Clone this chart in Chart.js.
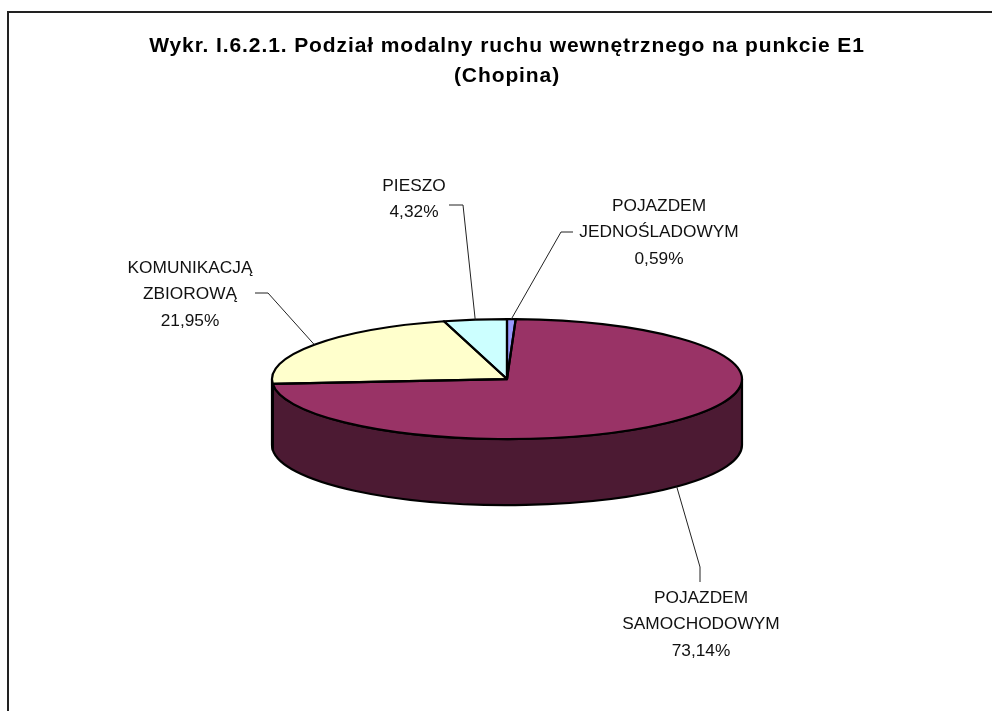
<!DOCTYPE html>
<html>
<head>
<meta charset="utf-8">
<style>
  body { margin: 0; background: #fff; }
  canvas { display: block; }
</style>
<script src="https://cdn.jsdelivr.net/npm/chart.js@4/dist/chart.umd.js"></script>
</head>
<body>
<canvas id="myChart" width="992" height="711"></canvas>
<script>
const titleLines = ['Wykr. I.6.2.1. Podział modalny ruchu wewnętrznego na punkcie E1', '(Chopina)']
const categories = [['POJAZDEM', 'JEDNOŚLADOWYM'], ['POJAZDEM', 'SAMOCHODOWYM'], ['KOMUNIKACJĄ', 'ZBIOROWĄ'], ['PIESZO']]
const shares = [0.59, 73.14, 21.95, 4.32]
const sliceColors = ['#9999ff', '#993366', '#ffffcc', '#ccffff']
const wallColors = ['#4c4c80', '#4c1a33', '#808066', '#668080']

const squash = 60 / 235 // flattened pie: vertical radius / horizontal radius
const depth = 66

// label block centre, first baseline, and the leader line bends (rim point comes from the arc)
const labelLayout = [
  { x: 659, y: 211, bends: [[561, 232], [573, 232]] },
  { x: 701, y: 603, bends: [[700, 567], [700, 582]], onWall: true },
  { x: 190, y: 273, bends: [[268, 293], [255, 293]] },
  { x: 414, y: 191, bends: [[463, 205], [449, 205]] }
]

const pie3d = {
  id: 'pie3d',
  beforeDraw(chart) {
    const { ctx, width, height } = chart
    ctx.save()
    ctx.strokeStyle = '#222'
    ctx.lineWidth = 2
    ctx.beginPath()
    ctx.moveTo(8, height)
    ctx.lineTo(8, 12)
    ctx.lineTo(width, 12)
    ctx.stroke()
    ctx.restore()
    ctx.letterSpacing = '0.9px'
  },
  beforeDatasetsDraw(chart) {
    const { ctx } = chart
    const arcs = chart.getDatasetMeta(0).data
    const { x, y, outerRadius: r } = arcs[0]
    ctx.letterSpacing = '0px'
    ctx.save()
    ctx.lineWidth = 2.2
    ctx.lineJoin = 'round'
    ctx.strokeStyle = '#000'
    arcs.forEach((arc, i) => {
      // only the part facing the viewer (0..PI in canvas angles) has a visible wall
      const a0 = Math.max(arc.startAngle, 0)
      const a1 = Math.min(arc.endAngle, Math.PI)
      if (a1 <= a0) return
      ctx.beginPath()
      ctx.ellipse(x, y, r, r * squash, 0, a0, a1)
      ctx.ellipse(x, y + depth, r, r * squash, 0, a1, a0, true)
      ctx.closePath()
      ctx.fillStyle = wallColors[i]
      ctx.fill()
      ctx.stroke()
    })
    ctx.restore()
    ctx.save()
    ctx.translate(0, y)
    ctx.scale(1, squash)
    ctx.translate(0, -y)
  },
  afterDatasetsDraw(chart) {
    const { ctx } = chart
    ctx.restore()
    const arcs = chart.getDatasetMeta(0).data
    ctx.save()
    ctx.lineWidth = 2.2
    ctx.lineJoin = 'round'
    ctx.strokeStyle = '#000'
    arcs.forEach(arc => {
      ctx.beginPath()
      ctx.moveTo(arc.x, arc.y)
      ctx.ellipse(arc.x, arc.y, arc.outerRadius, arc.outerRadius * squash, 0, arc.startAngle, arc.endAngle)
      ctx.closePath()
      ctx.stroke()
    })
    ctx.restore()

    ctx.save()
    ctx.font = '17.3px "Liberation Sans"'
    ctx.fillStyle = '#111'
    ctx.textAlign = 'center'
    ctx.strokeStyle = '#222'
    ctx.lineWidth = 1
    arcs.forEach((arc, i) => {
      const place = labelLayout[i]
      const mid = (arc.startAngle + arc.endAngle) / 2
      const rimX = arc.x + arc.outerRadius * Math.cos(mid)
      const rimY = arc.y + arc.outerRadius * squash * Math.sin(mid) + (place.onWall ? depth : 0)
      ctx.beginPath()
      ctx.moveTo(rimX, rimY)
      place.bends.forEach(p => ctx.lineTo(p[0], p[1]))
      ctx.stroke()
      const lines = categories[i].concat(shares[i].toFixed(2).replace('.', ',') + '%')
      lines.forEach((line, n) => ctx.fillText(line, place.x, place.y + n * 26.3))
    })
    ctx.restore()
  }
}

new Chart(document.getElementById('myChart'), {
  type: 'pie',
  data: {
    labels: categories.map(c => c.join(' ')),
    datasets: [{
      data: shares,
      backgroundColor: sliceColors,
      borderWidth: 0,
      radius: 235,
      clip: false
    }]
  },
  options: {
    responsive: false,
    animation: false,
    layout: { padding: { left: 22, bottom: 53 } },
    plugins: {
      legend: { display: false },
      tooltip: { enabled: false },
      title: {
        display: true,
        text: titleLines,
        color: '#000',
        font: { family: '"Liberation Sans"', size: 21, weight: 'bold', lineHeight: 1.43 },
        padding: { top: 31, bottom: 9 }
      }
    }
  },
  plugins: [pie3d]
})
</script>
</body>
</html>
